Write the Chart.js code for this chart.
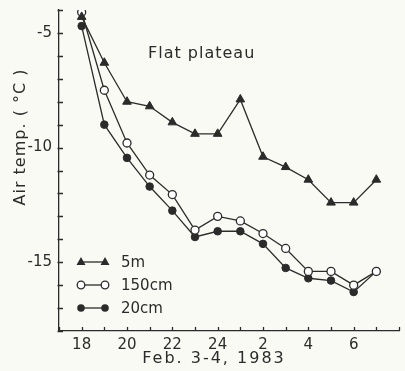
<!DOCTYPE html>
<html>
<head>
<meta charset="utf-8">
<script src="https://cdn.jsdelivr.net/npm/chart.js@4/dist/chart.umd.min.js"></script>
<style>
  html, body { margin: 0; padding: 0; background: #fafaf5; }
</style>
</head>
<body>
<canvas id="chart" width="405" height="371"></canvas>
<script>
// hours of Feb. 3-4, 1983 (24 = midnight, 25 = 1 am ...)
var hours = [18, 19, 20, 21, 22, 23, 24, 25, 26, 27, 28, 29, 30, 31];
var temp5m    = [-4.3, -6.3, -8.0, -8.2, -8.9, -9.4, -9.4, -7.9, -10.4, -10.85, -11.4, -12.4, -12.4, -11.4];
var temp150cm = [-4.1, -7.5, -9.8, -11.2, -12.05, -13.6, -13.0, -13.2, -13.75, -14.4, -15.4, -15.4, -16.0, -15.4];
var temp20cm  = [-4.7, -9.0, -10.45, -11.7, -12.75, -13.9, -13.65, -13.65, -14.2, -15.25, -15.7, -15.8, -16.3, -15.4];

var xTickLabels = { 18: '18', 20: '20', 22: '22', 24: '24', 26: '2', 28: '4', 30: '6' };
var yTickLabels = { '-5': '-5', '-10': '-10', '-15': '-15' };

var ink = '#2b2b2b';
var font = '"DejaVu Sans", sans-serif';

function points(values) {
  return hours.map(function (h, i) { return { x: h, y: values[i] }; });
}

// small inward tick marks on both axes (one per unit)
var inwardTicks = {
  id: 'inwardTicks',
  afterDraw: function (chart) {
    var ctx = chart.ctx;
    var xs = chart.scales.x, ys = chart.scales.y;
    var area = chart.chartArea;
    ctx.save();
    ctx.strokeStyle = ink;
    ctx.lineWidth = 1.3;
    ctx.beginPath();
    xs.ticks.forEach(function (t) {
      var px = Math.round(xs.getPixelForValue(t.value)) + 0.5;
      ctx.moveTo(px, area.bottom);
      ctx.lineTo(px, area.bottom - 4);
    });
    ys.ticks.forEach(function (t) {
      var py = Math.round(ys.getPixelForValue(t.value)) + 0.5;
      ctx.moveTo(area.left - 1.5, py);
      ctx.lineTo(area.left + 4, py);
    });
    ctx.stroke();
    ctx.restore();
  }
};

// titles, "Flat plateau" and the little legend in the corner
var annotate = {
  id: 'annotate',
  afterDraw: function (chart) {
    var ctx = chart.ctx;
    ctx.save();
    ctx.fillStyle = ink;
    ctx.strokeStyle = ink;
    ctx.textBaseline = 'middle';

    ctx.font = '16px ' + font;
    ctx.letterSpacing = '1px';
    ctx.fillText('Flat plateau', 148, 54);

    ctx.textAlign = 'center';
    ctx.letterSpacing = '2px';
    ctx.fillText('Feb. 3-4, 1983', 214, 359);

    ctx.save();
    ctx.letterSpacing = '1px';
    ctx.translate(21, 137);
    ctx.rotate(-Math.PI / 2);
    ctx.fillText('Air temp. ( °C )', 0, 0);
    ctx.restore();

    // legend
    var rows = [
      { label: '5m', y: 262, style: 'tri' },
      { label: '150cm', y: 285, style: 'open' },
      { label: '20cm', y: 308, style: 'dot' }
    ];
    ctx.textAlign = 'left';
    ctx.letterSpacing = '0px';
    ctx.font = '15px ' + font;
    ctx.lineWidth = 1.3;
    rows.forEach(function (r) {
      ctx.beginPath();
      ctx.moveTo(81, r.y);
      ctx.lineTo(105, r.y);
      ctx.stroke();
      [81, 105].forEach(function (x) {
        ctx.beginPath();
        if (r.style === 'tri') {
          ctx.moveTo(x, r.y - 5);
          ctx.lineTo(x + 4.5, r.y + 3);
          ctx.lineTo(x - 4.5, r.y + 3);
          ctx.closePath();
          ctx.fill();
        } else {
          ctx.arc(x, r.y, 3.8, 0, Math.PI * 2);
          if (r.style === 'open') {
            ctx.fillStyle = '#ffffff';
            ctx.fill();
            ctx.fillStyle = ink;
            ctx.stroke();
          } else {
            ctx.fill();
          }
        }
      });
      ctx.fillText(r.label, 121, r.y + 1);
    });
    ctx.restore();
  }
};

new Chart(document.getElementById('chart'), {
  type: 'line',
  data: {
    datasets: [{
      label: '5m',
      data: points(temp5m),
      borderColor: ink,
      backgroundColor: ink,
      borderWidth: 1.3,
      pointStyle: 'triangle',
      pointRadius: 5,
      pointBorderWidth: 1
    }, {
      label: '150cm',
      data: points(temp150cm),
      borderColor: ink,
      backgroundColor: '#ffffff',
      borderWidth: 1.3,
      pointStyle: 'circle',
      pointRadius: 4,
      pointBorderWidth: 1.3
    }, {
      label: '20cm',
      data: points(temp20cm),
      borderColor: ink,
      backgroundColor: ink,
      borderWidth: 1.3,
      pointStyle: 'circle',
      pointRadius: 3.8,
      pointBorderWidth: 1
    }]
  },
  options: {
    responsive: false,
    animation: false,
    layout: { padding: { top: 10, right: 0, left: 0, bottom: 0 } },
    plugins: {
      legend: { display: false },
      tooltip: { enabled: false }
    },
    scales: {
      x: {
        type: 'linear',
        min: 17,
        max: 32,
        afterFit: function (s) { s.height = 40; s.paddingLeft = 0; s.paddingRight = 0; },
        border: { color: ink, width: 1.3 },
        grid: { drawOnChartArea: false, drawTicks: false },
        ticks: {
          stepSize: 1,
          autoSkip: false,
          maxRotation: 0,
          padding: 5,
          color: ink,
          font: { size: 15, family: font },
          callback: function (v) { return xTickLabels[v] || ''; }
        }
      },
      y: {
        min: -18,
        max: -4,
        afterFit: function (s) { s.width = 59; s.paddingTop = 0; s.paddingBottom = 0; },
        border: { color: ink, width: 1.3 },
        grid: { drawOnChartArea: false, drawTicks: false },
        ticks: {
          stepSize: 1,
          autoSkip: false,
          padding: 7,
          color: ink,
          font: { size: 15, family: font },
          callback: function (v) { return yTickLabels[v] || ''; }
        }
      }
    }
  },
  plugins: [inwardTicks, annotate]
});
</script>
</body>
</html>
